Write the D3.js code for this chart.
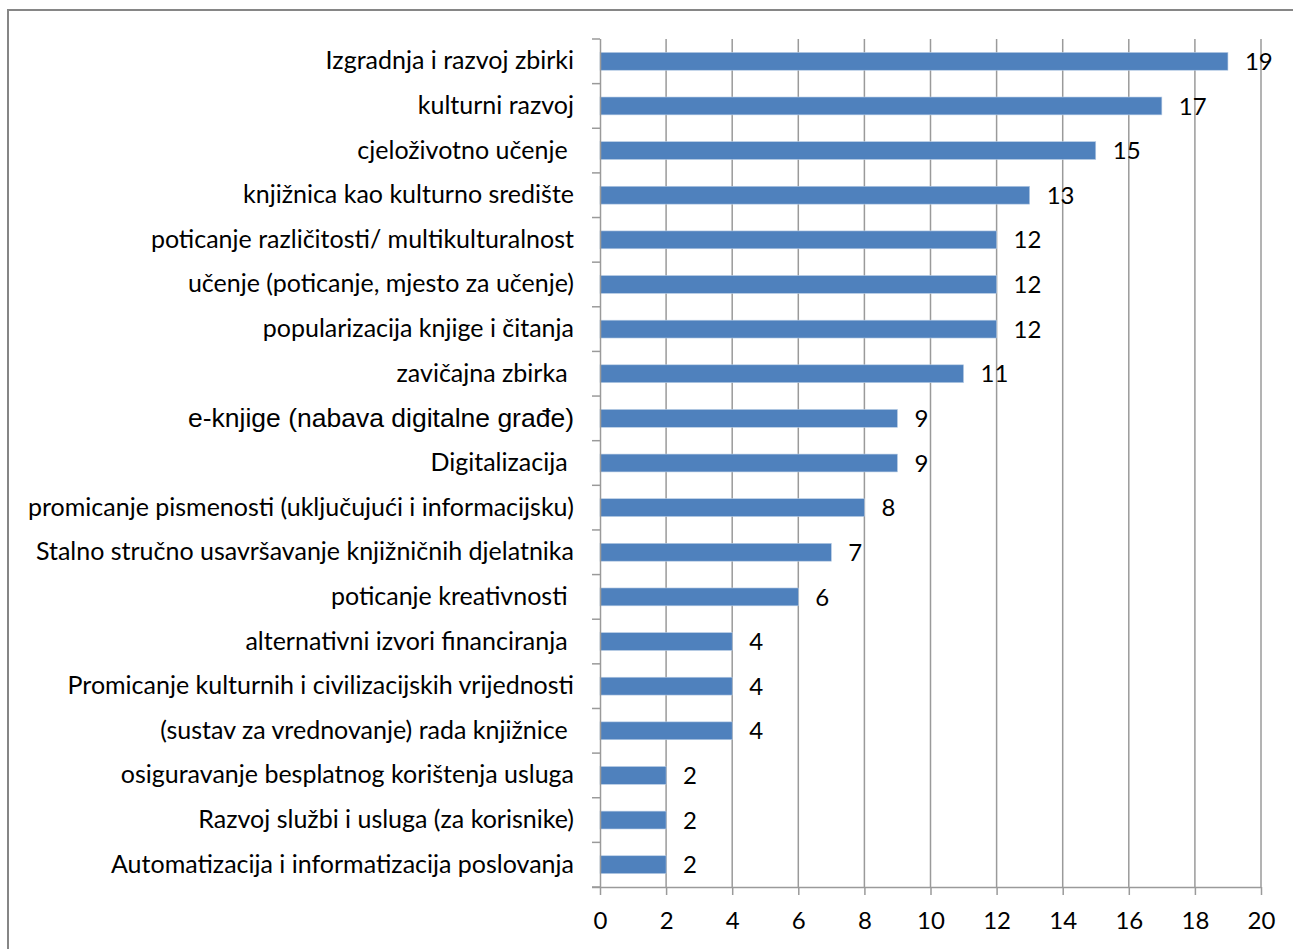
<!DOCTYPE html>
<html>
<head>
<meta charset="utf-8">
<script src="https://cdn.jsdelivr.net/npm/d3@7"></script>
<style>
  body { margin: 0; background: #fff; }
  svg text { white-space: pre; }
</style>
</head>
<body>
<svg id="chart" width="1293" height="949"></svg>
<script>
const categories = [
  'Izgradnja i razvoj zbirki',
  'kulturni razvoj',
  'cjeloživotno učenje ',
  'knjižnica kao kulturno središte',
  'poticanje različitosti/ multikulturalnost',
  'učenje (poticanje, mjesto za učenje)',
  'popularizacija knjige i čitanja',
  'zavičajna zbirka ',
  'e-knjige (nabava digitalne građe)',
  'Digitalizacija ',
  'promicanje pismenosti (uključujući i informacijsku)',
  'Stalno stručno usavršavanje knjižničnih djelatnika',
  'poticanje kreativnosti ',
  'alternativni izvori financiranja ',
  'Promicanje kulturnih i civilizacijskih vrijednosti',
  '(sustav za vrednovanje) rada knjižnice ',
  'osiguravanje besplatnog korištenja usluga',
  'Razvoj službi i usluga (za korisnike)',
  'Automatizacija i informatizacija poslovanja'
];
const values = [19, 17, 15, 13, 12, 12, 12, 11, 9, 9, 8, 7, 6, 4, 4, 4, 2, 2, 2];
const xTicks = [0, 2, 4, 6, 8, 10, 12, 14, 16, 18, 20];

const fontFamily = 'Lato, "Open Sans", sans-serif';
const labelSize = 25;
const numberSize = 24;

const svg = d3.select('#chart');
const margin = { left: 600, right: 32, top: 39, bottom: 62 };
const width = 1293, height = 949;

// outer frame (only top and left edges fall inside the picture)
svg.append('path')
  .attr('d', `M8,${height} L8,10 L${width},10`)
  .attr('fill', 'none')
  .attr('stroke', '#868686')
  .attr('stroke-width', 2);

const x = d3.scaleLinear().domain([0, 20]).range([margin.left, width - margin.right]);
const y = d3.scaleBand().domain(categories).range([margin.top, height - margin.bottom]).paddingInner(0.6).paddingOuter(0.3);
const bandStep = y.step();

// gridlines
svg.append('g')
  .selectAll('line')
  .data(xTicks.slice(1))
  .join('line')
  .attr('x1', (d) => x(d)).attr('x2', (d) => x(d))
  .attr('y1', margin.top).attr('y2', height - margin.bottom)
  .attr('stroke', '#9a9a9a')
  .attr('stroke-width', 1.5);

// bars
svg.append('g')
  .selectAll('rect')
  .data(values)
  .join('rect')
  .attr('x', x(0))
  .attr('y', (d, i) => y(categories[i]))
  .attr('width', (d) => x(d) - x(0))
  .attr('height', y.bandwidth())
  .attr('fill', '#4f81bd')
  .attr('stroke', '#b9cde5')
  .attr('stroke-width', 0.6);

// value labels
svg.append('g')
  .selectAll('text')
  .data(values)
  .join('text')
  .attr('x', (d) => x(d) + 17)
  .attr('y', (d, i) => y(categories[i]) + y.bandwidth() / 2)
  .attr('dy', '0.36em')
  .attr('font-family', fontFamily)
  .attr('font-size', numberSize)
  .attr('fill', '#000')
  .text((d) => d);

// x axis
const xAxis = svg.append('g')
  .attr('transform', `translate(0,${height - margin.bottom})`)
  .call(d3.axisBottom(x).tickValues(xTicks).tickSize(8).tickPadding(17));
xAxis.select('.domain').attr('stroke', '#9a9a9a').attr('stroke-width', 1.5).attr('d', `M${x(0) - 8},0.5H${x(20)}`);
xAxis.selectAll('.tick line').attr('stroke', '#9a9a9a').attr('stroke-width', 1.5);
xAxis.selectAll('.tick text')
  .attr('font-family', fontFamily)
  .attr('font-size', numberSize)
  .attr('fill', '#000');

// y axis
const yAxis = svg.append('g')
  .attr('transform', `translate(${x(0)},0)`)
  .call(d3.axisLeft(y).tickSize(0).tickPadding(26));
yAxis.select('.domain').attr('stroke', '#9a9a9a').attr('stroke-width', 1.5).attr('d', `M0.5,${margin.top}V${height - margin.bottom}`);
yAxis.selectAll('.tick text')
  .attr('font-family', (d) => d.startsWith('e-knjige') ? '"Liberation Sans", Arial, sans-serif' : fontFamily)
  .attr('font-size', (d) => d.startsWith('e-knjige') ? 26.5 : labelSize)
  .attr('fill', '#000');

// category boundary ticks on the value axis
const boundaries = d3.range(categories.length + 1).map((i) => margin.top + i * bandStep);
svg.append('g')
  .selectAll('line')
  .data(boundaries)
  .join('line')
  .attr('x1', x(0) - 8).attr('x2', x(0))
  .attr('y1', (d) => d).attr('y2', (d) => d)
  .attr('stroke', '#9a9a9a')
  .attr('stroke-width', 1.5);
</script>
</body>
</html>
